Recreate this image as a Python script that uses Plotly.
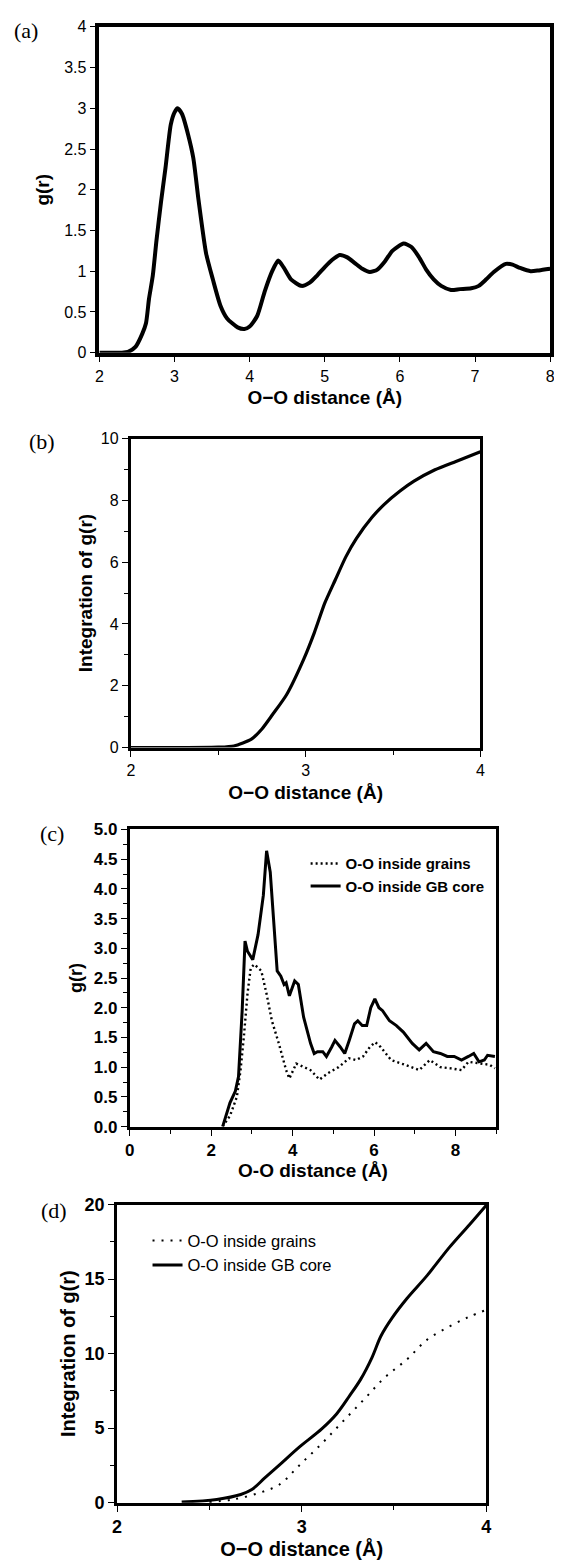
import plotly.graph_objects as go

# ---------------- data ----------------
# (a) O-O g(r)
a_r = [2.0, 2.3, 2.38, 2.48, 2.57, 2.62, 2.66, 2.71, 2.76, 2.82, 2.88, 2.95, 3.0, 3.04, 3.1,
       3.18, 3.25, 3.32, 3.42, 3.51, 3.61, 3.7, 3.84, 3.93, 4.0, 4.1, 4.2, 4.3, 4.38, 4.45,
       4.55, 4.69, 4.8, 4.9, 5.0, 5.1, 5.2, 5.3, 5.4, 5.5, 5.6, 5.7, 5.8, 5.9, 6.05, 6.15,
       6.25, 6.35, 6.45, 6.55, 6.68, 6.8, 6.95, 7.05, 7.15, 7.25, 7.41, 7.5, 7.6, 7.74, 7.85, 8.0]
a_g = [0.0, 0.0, 0.01, 0.07, 0.23, 0.36, 0.66, 0.94, 1.38, 1.85, 2.27, 2.8, 2.95, 3.0, 2.93,
       2.68, 2.39, 1.87, 1.22, 0.9, 0.58, 0.42, 0.31, 0.29, 0.32, 0.45, 0.75, 1.0, 1.13, 1.05,
       0.9, 0.82, 0.86, 0.95, 1.05, 1.14, 1.2, 1.17, 1.1, 1.03, 0.99, 1.02, 1.12, 1.25, 1.34, 1.3,
       1.18, 1.02, 0.9, 0.82, 0.77, 0.78, 0.79, 0.82, 0.9, 0.99, 1.09, 1.08, 1.04, 1.0, 1.01, 1.03]

# (b) integration of g(r)
b_r = [2.0, 2.3, 2.5, 2.59, 2.69, 2.75, 2.81, 2.89, 2.99, 3.05, 3.11, 3.17, 3.23, 3.29,
       3.38, 3.45, 3.54, 3.62, 3.74, 3.86, 4.0]
b_n = [0.0, 0.0, 0.01, 0.05, 0.27, 0.6, 1.06, 1.7, 2.87, 3.72, 4.68, 5.43, 6.17, 6.76,
       7.45, 7.87, 8.3, 8.62, 8.99, 9.26, 9.57]

# (c) g(r) inside grains vs. GB core
c_r_gb = [2.28, 2.46, 2.59, 2.67, 2.76, 2.83, 2.89, 3.02, 3.15, 3.28, 3.36, 3.45, 3.53, 3.62,
          3.71, 3.79, 3.84, 3.92, 4.05, 4.14, 4.27, 4.44, 4.53, 4.61, 4.74, 4.83, 4.96, 5.04,
          5.17, 5.28, 5.39, 5.52, 5.6, 5.71, 5.82, 5.92, 6.02, 6.12, 6.21, 6.38, 6.55, 6.72,
          6.94, 7.11, 7.28, 7.46, 7.63, 7.8, 7.97, 8.15, 8.32, 8.45, 8.58, 8.71, 8.79, 8.97]
c_g_gb = [0.0, 0.4, 0.59, 0.84, 1.95, 3.12, 2.95, 2.81, 3.23, 3.89, 4.64, 4.28, 3.5, 2.62,
          2.53, 2.39, 2.42, 2.2, 2.45, 2.39, 1.84, 1.4, 1.23, 1.26, 1.26, 1.18, 1.34, 1.45,
          1.34, 1.23, 1.45, 1.73, 1.78, 1.7, 1.7, 2.0, 2.15, 2.0, 1.95, 1.78, 1.7, 1.59,
          1.4, 1.29, 1.4, 1.26, 1.23, 1.18, 1.18, 1.12, 1.18, 1.23, 1.09, 1.12, 1.2, 1.18]
c_r_in = [2.28, 2.46, 2.63, 2.72, 2.8, 2.89, 2.97, 3.06, 3.23, 3.36, 3.49, 3.66, 3.84, 3.92,
          4.09, 4.27, 4.44, 4.66, 4.87, 5.13, 5.39, 5.56, 5.73, 5.9, 6.03, 6.16, 6.42, 6.76,
          7.11, 7.37, 7.63, 7.89, 8.15, 8.32, 8.58, 8.84, 8.97]
c_g_in = [0.0, 0.18, 0.5, 0.95, 1.5, 2.23, 2.67, 2.73, 2.62, 2.23, 1.78, 1.4, 0.95, 0.81,
          1.06, 1.0, 0.95, 0.79, 0.9, 1.0, 1.15, 1.12, 1.18, 1.34, 1.42, 1.34, 1.12, 1.04,
          0.95, 1.12, 1.0, 0.98, 0.95, 1.09, 1.06, 1.04, 0.98]

# (d) integration of g(r), grains vs. GB core
d_r_gb = [2.35, 2.54, 2.67, 2.73, 2.8, 2.88, 2.99, 3.11, 3.19, 3.26, 3.32, 3.38, 3.43, 3.49,
          3.57, 3.68, 3.8, 3.91, 4.0]
d_n_gb = [0.04, 0.22, 0.55, 0.88, 1.66, 2.54, 3.76, 4.97, 5.97, 7.18, 8.29, 9.72, 11.2, 12.4,
          13.7, 15.25, 17.13, 18.67, 19.96]
d_r_in = [2.5, 2.63, 2.77, 2.88, 2.99, 3.11, 3.22, 3.34, 3.45, 3.57, 3.68, 3.8, 3.91, 4.0]
d_n_in = [0.04, 0.22, 0.66, 1.22, 2.54, 3.98, 5.41, 6.96, 8.4, 9.61, 10.94, 11.82, 12.49, 12.93]

series_names = ["O-O inside grains", "O-O inside GB core"]
xlabel = "O\u2212O distance (\u00c5)"
xlabel_c = "O-O distance (\u00c5)"

# ---------------- figure ----------------
# the page body has an 8px margin; the figure is sized/positioned to compensate
OFF = 8
W, H = 562 - OFF, 1565 - OFF
fig = go.Figure()


def dx(a, b):
    return [(a - OFF) / W, (b - OFF) / W]


def dy(top, bottom):
    return [1 - (bottom - OFF) / H, 1 - (top - OFF) / H]


SANS = "Liberation Sans, Arial, sans-serif"
SERIF = "Liberation Serif, Times New Roman, serif"

fig.add_trace(go.Scatter(x=a_r, y=a_g, mode="lines",
                         line=dict(color="black", width=4, shape="spline", smoothing=0.6),
                         showlegend=False, xaxis="x", yaxis="y"))
fig.add_trace(go.Scatter(x=b_r, y=b_n, mode="lines",
                         line=dict(color="black", width=3.2, shape="spline", smoothing=0.6),
                         showlegend=False, xaxis="x2", yaxis="y2"))
fig.add_trace(go.Scatter(x=c_r_in, y=c_g_in, mode="lines", name=series_names[0],
                         line=dict(color="black", width=2.4, dash="2px,3px"),
                         xaxis="x3", yaxis="y3", legend="legend"))
fig.add_trace(go.Scatter(x=c_r_gb, y=c_g_gb, mode="lines", name=series_names[1],
                         line=dict(color="black", width=3),
                         xaxis="x3", yaxis="y3", legend="legend"))
fig.add_trace(go.Scatter(x=d_r_in, y=d_n_in, mode="lines", name=series_names[0],
                         line=dict(color="black", width=2, dash="2px,7px", shape="spline"),
                         xaxis="x4", yaxis="y4", legend="legend2"))
fig.add_trace(go.Scatter(x=d_r_gb, y=d_n_gb, mode="lines", name=series_names[1],
                         line=dict(color="black", width=3, shape="spline"),
                         xaxis="x4", yaxis="y4", legend="legend2"))


def axis_common(size, bold, lw):
    return dict(showline=True, linecolor="black", linewidth=lw, mirror=True,
                showgrid=False, zeroline=False, ticks="outside", ticklen=6, tickwidth=1.3,
                tickcolor="black", ticklabeloverflow="allow",
                tickfont=dict(family=SANS, size=size, color="black",
                              weight="bold" if bold else "normal"))


def tfont(size):
    return dict(family=SANS, size=size, color="black", weight="bold")


minor_style = dict(ticks="outside", ticklen=4, tickcolor="black", tickwidth=1.2)

layout = dict(width=W, height=H, margin=dict(l=0, r=0, t=0, b=0),
              paper_bgcolor="white", plot_bgcolor="white", showlegend=True)

# (a)
layout["xaxis"] = dict(axis_common(16, False, 3.5), domain=dx(96, 555), anchor="y", range=[2, 8], dtick=1,
                       title=dict(text=xlabel, font=tfont(19), standoff=8))
layout["yaxis"] = dict(axis_common(16, False, 3.5), domain=dy(17, 347), anchor="x", range=[0, 4], dtick=0.5,
                       tickformat="~g", title=dict(text="g(r)", font=tfont(19), standoff=11))
# (b)
layout["xaxis2"] = dict(axis_common(16, False, 3), domain=dx(128, 484), anchor="y2", range=[2, 4], dtick=1,
                        minor=dict(minor_style, dtick=0.5),
                        title=dict(text=xlabel, font=tfont(19), standoff=8))
layout["yaxis2"] = dict(axis_common(16, False, 3), domain=dy(434, 747), anchor="x2", range=[0, 10], dtick=2,
                        minor=dict(minor_style, dtick=1),
                        title=dict(text="Integration of g(r)", font=tfont(19), standoff=4))
# (c)
layout["xaxis3"] = dict(axis_common(17, True, 3), domain=dx(127, 500), anchor="y3", range=[0, 9], dtick=2,
                        minor=dict(minor_style, dtick=1),
                        title=dict(text=xlabel_c, font=tfont(19), standoff=4))
layout["yaxis3"] = dict(axis_common(17, True, 3), domain=dy(830, 1131), anchor="x3", range=[0, 5], dtick=0.5,
                        tickformat=".1f", minor=dict(minor_style, dtick=0.25),
                        title=dict(text="g(r)", font=tfont(18), standoff=7))
# (d)
layout["xaxis4"] = dict(axis_common(18, True, 3), domain=dx(114, 490), anchor="y4", range=[2, 4], dtick=1,
                        minor=dict(minor_style, dtick=0.5),
                        title=dict(text=xlabel, font=tfont(20), standoff=3))
layout["yaxis4"] = dict(axis_common(18, True, 3), domain=dy(1210, 1512), anchor="x4", range=[0, 20], dtick=5,
                        minor=dict(minor_style, dtick=2.5),
                        title=dict(text="Integration of g(r)", font=tfont(20), standoff=4))

layout["legend"] = dict(x=(306 - OFF) / W, y=1 - (848 - OFF) / H, xanchor="left", yanchor="top",
                        bgcolor="rgba(0,0,0,0)", tracegroupgap=0, itemwidth=30,
                        font=dict(family=SANS, size=15, color="black", weight="bold"))
layout["legend2"] = dict(x=(145 - OFF) / W, y=1 - (1229 - OFF) / H, xanchor="left", yanchor="top",
                         bgcolor="rgba(0,0,0,0)", tracegroupgap=0, itemwidth=30,
                         font=dict(family=SANS, size=16.5, color="black"))

fig.update_layout(**layout)

for lab, px, py in [("(a)", 21, 21), ("(b)", 38, 437), ("(c)", 48, 834), ("(d)", 50, 1216)]:
    fig.add_annotation(text=lab, x=(px - OFF) / W, y=1 - (py - OFF) / H, xref="paper", yref="paper",
                       showarrow=False, xanchor="center", yanchor="middle",
                       font=dict(family=SERIF, size=22, color="black"))

fig.write_html("out.html")
